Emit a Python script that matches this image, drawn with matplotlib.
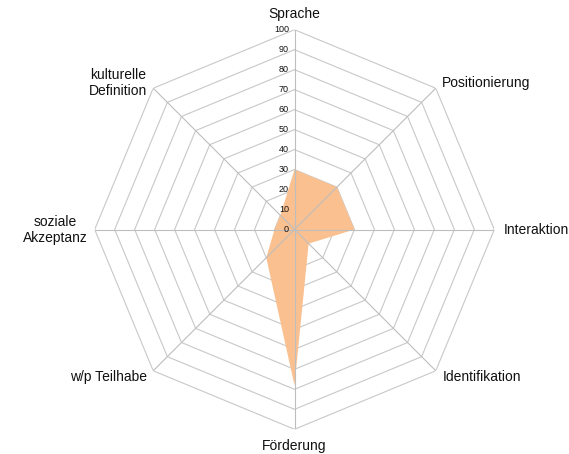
import numpy as np
import matplotlib
matplotlib.use("Agg")
import matplotlib.pyplot as plt

plt.rcParams['font.family'] = ['Liberation Sans', 'DejaVu Sans']

categories = ["Sprache", "Positionierung", "Interaktion", "Identifikation",
              "Förderung", "w/p Teilhabe", "soziale\nAkzeptanz", "kulturelle\nDefinition"]
values = [30, 30, 30, 10, 78, 20, 10, 10]
ring_levels = [10, 20, 30, 40, 50, 60, 70, 80, 90, 100]
tick_labels = ["0", "10", "20", "30", "40", "50", "60", "70", "80", "90", "100"]

W, H = 569, 454
fig = plt.figure(figsize=(W / 100, H / 100), dpi=100)
cx, cy, R = 294.5, 229.5, 199.8
ax = fig.add_axes([(cx - R) / W, (H - cy - R) / H, 2 * R / W, 2 * R / H], projection='polar')
ax.set_theta_offset(np.pi / 2)
ax.set_theta_direction(-1)
ax.set_ylim(0, 100)
ax.grid(False)
ax.spines['polar'].set_visible(False)
ax.set_xticks([])
ax.set_yticks([])
ax.patch.set_visible(False)

n = len(categories)
angles = np.arange(n) * 2 * np.pi / n
closed = np.append(angles, angles[0])

grid_color = '#C8C8C8'
for lvl in ring_levels:
    ax.plot(closed, [lvl] * (n + 1), color=grid_color, lw=0.8, zorder=1)

vals_closed = np.append(values, values[0])
ax.fill(closed, vals_closed, color='#FAC090', lw=0, zorder=2)

for a in angles:
    ax.plot([a, a], [0, 100], color='#BEBEBE', lw=0.8, zorder=3)

for i, t in enumerate(tick_labels):
    ax.annotate(t, xy=(0, i * 10), xytext=(-4, 0), textcoords='offset points',
                ha='right', va='center', fontsize=6.5, color='#111111', zorder=4)

px = 0.72
label_specs = [
    ((0, 15.4), 'center', 'center'),
    ((5.7, 5), 'left', 'center'),
    ((9, -0.5), 'left', 'center'),
    ((6.5, -6), 'left', 'center'),
    ((0, -17), 'center', 'center'),
    ((-6, -6), 'right', 'center'),
    ((-7, -0.7), 'right', 'center'),
    ((-6, 5), 'right', 'center'),
]
for a, lab, (off, ha, va) in zip(angles, categories, label_specs):
    ax.annotate(lab, xy=(a, 100), xytext=(off[0] * px, off[1] * px), textcoords='offset points',
                ha=ha, va=va, ma='center', fontsize=10, color='#111111',
                linespacing=1.15, annotation_clip=False)

fig.savefig("out.png", dpi=100)
